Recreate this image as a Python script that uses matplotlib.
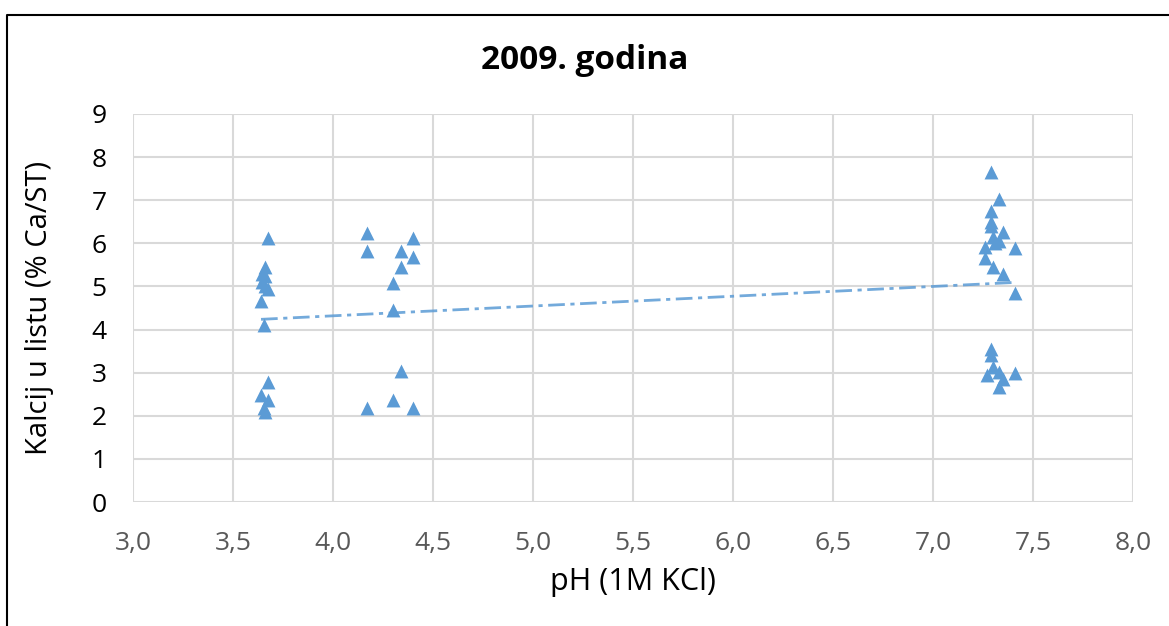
import numpy as np
import matplotlib.pyplot as plt
from matplotlib.ticker import FuncFormatter
from matplotlib.lines import Line2D

# pH (1M KCl) i kalcij u listu (% Ca/ST), 2009.
ph_a = [3.675, 3.66, 3.645, 3.66, 3.645, 3.66, 3.675, 3.64, 3.655, 3.675, 3.64, 3.675, 3.655, 3.66]
ca_a = [6.12, 5.45, 5.30, 5.25, 5.10, 5.00, 4.95, 4.66, 4.10, 2.78, 2.48, 2.37, 2.17, 2.10]

ph_b = [4.17, 4.17, 4.40, 4.34, 4.40, 4.34, 4.30, 4.30, 4.34, 4.30, 4.17, 4.40]
ca_b = [6.24, 5.82, 6.12, 5.82, 5.68, 5.45, 5.08, 4.45, 3.05, 2.37, 2.18, 2.18]

ph_c = [7.29, 7.33, 7.29, 7.29, 7.29, 7.35, 7.30, 7.33, 7.31, 7.26, 7.41, 7.26, 7.30, 7.35, 7.41,
        7.29, 7.29, 7.30, 7.27, 7.33, 7.35, 7.33, 7.41]
ca_c = [7.65, 7.03, 6.75, 6.50, 6.40, 6.26, 6.15, 6.05, 6.00, 5.92, 5.90, 5.65, 5.45, 5.30, 4.85,
        3.55, 3.42, 3.13, 2.95, 3.02, 2.85, 2.67, 3.00]

ph = np.array(ph_a + ph_b + ph_c)
ca = np.array(ca_a + ca_b + ca_c)

blue = '#5B9BD5'
grid = '#D9D9D9'
tick_col = '#595959'

plt.rcParams['font.family'] = ['Open Sans', 'DejaVu Sans']

fig = plt.figure(figsize=(11.69, 6.26), dpi=100)
ax = fig.add_axes([0.1138, 0.198, 0.8554, 0.6199])

ax.scatter(ph, ca, marker='^', s=100, color=blue, zorder=3, linewidths=0)

# linearni trend
k, b = np.polyfit(ph, ca, 1)
xt = np.array([ph.min(), ph.max()])
ax.plot(xt, k * xt + b, color=blue, lw=2, ls=(0, (6, 2, 1.5, 2)), alpha=0.85, zorder=2)

ax.set_xlim(3.0, 8.0)
ax.set_ylim(0, 9)
ax.set_xticks(np.arange(3.0, 8.01, 0.5))
ax.set_yticks(range(0, 10))
ax.xaxis.set_major_formatter(FuncFormatter(lambda v, p: f'{v:.1f}'.replace('.', ',')))

ax.grid(True, color=grid, lw=1.5, zorder=0)
for s in ax.spines.values():
    s.set_visible(False)
ax.tick_params(length=0, labelsize=19)
ax.tick_params(axis='x', colors=tick_col, pad=21)
ax.tick_params(axis='y', colors='black', pad=19)

ax.set_xlabel('pH (1M KCl)', fontsize=22, labelpad=8)
ax.set_ylabel('Kalcij u listu (% Ca/ST)', fontsize=21, labelpad=27)
fig.text(0.5, 0.904, '2009. godina', ha='center', va='center', fontsize=24, fontweight='bold')

# okvir (gore i lijevo)
fig.lines.append(Line2D([0.006, 0.006, 1.0], [0.0, 0.976, 0.976], transform=fig.transFigure,
                        color='black', lw=1.5))

fig.savefig('out.png', dpi=100)
